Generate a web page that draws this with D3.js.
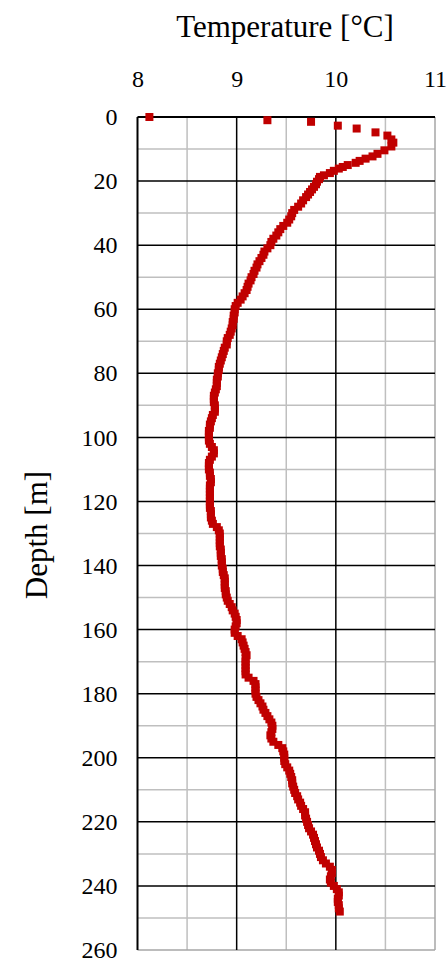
<!DOCTYPE html>
<html lang="en">
<head>
  <meta charset="UTF-8" />
  <title>Temperature profile</title>
  <script src="https://d3js.org/d3.v7.min.js"></script>
  <style>
    body { margin: 0; background: white; font-family: "Liberation Serif", "Times New Roman", serif; }
    .axis-title { font-size: 31px; fill: #000; font-family: "Liberation Serif", "Times New Roman", serif; }
  </style>
</head>
<body>
  <svg id="chart" width="447" height="963"></svg>

  <script>
    // temperature ticks along the top, depth ticks down the side
    const tempTicks = [8, 9, 10, 11];
    const depthTicks = [0, 20, 40, 60, 80, 100, 120, 140, 160, 180, 200, 220, 240, 260];

    const depth = [
      0, 1.0, 1.5, 2.7, 3.6, 4.8, 5.8, 7.0, 8.0, 9.2, 10.4, 11.5, 12.3, 13.0, 13.7, 14.3, 15.0, 15.6, 16.1, 16.8,
      17.5, 18.2, 18.7, 19.4, 20.2, 21.0, 21.8, 22.6, 23.4, 24.2, 25, 26, 27, 28, 29, 30, 31, 32, 33, 34,
      35, 36, 37, 38, 39, 40, 41, 42, 43, 44, 45, 46, 47, 48, 49, 50, 51, 52, 53, 54,
      55, 56, 57, 58, 59, 60, 61, 62, 63, 64, 65, 66, 67, 68, 69, 70, 71, 72, 73, 74,
      75, 76, 77, 78, 79, 80, 81, 82, 83, 84, 85, 86, 87, 88, 89, 90, 91, 92, 93, 94,
      95, 96, 97, 98, 99, 100, 101, 102, 103, 104, 105, 106, 107, 108, 109, 110, 111, 112, 113, 114,
      115, 116, 117, 118, 119, 120, 121, 122, 123, 124, 125, 126, 127, 128, 129, 130, 131, 132, 133, 134,
      135, 136, 137, 138, 139, 140, 141, 142, 143, 144, 145, 146, 147, 148, 149, 150, 151, 152, 153, 154,
      155, 156, 157, 158, 159, 160, 161, 162, 163, 164, 165, 166, 167, 168, 169, 170, 171, 172, 173, 174,
      175, 176, 177, 178, 179, 180, 181, 182, 183, 184, 185, 186, 187, 188, 189, 190, 191, 192, 193, 194,
      195, 196, 197, 198, 199, 200, 201, 202, 203, 204, 205, 206, 207, 208, 209, 210, 211, 212, 213, 214,
      215, 216, 217, 218, 219, 220, 221, 222, 223, 224, 225, 226, 227, 228, 229, 230, 231, 232, 233, 234,
      235, 236, 237, 238, 239, 240, 241, 242, 243, 244, 245, 246, 247, 248
    ];
    const temperature = [
      8.12, 9.31, 9.75, 10.02, 10.21, 10.40, 10.52, 10.56, 10.58, 10.56, 10.49, 10.42, 10.37, 10.30, 10.24, 10.20, 10.12, 10.07, 10.03, 9.98,
      9.94, 9.88, 9.84, 9.83, 9.81, 9.80, 9.78, 9.76, 9.74, 9.72, 9.70, 9.67, 9.65, 9.62, 9.58, 9.56, 9.55, 9.53, 9.51, 9.47,
      9.44, 9.42, 9.40, 9.37, 9.35, 9.34, 9.31, 9.28, 9.27, 9.25, 9.23, 9.21, 9.20, 9.18, 9.17, 9.15, 9.14, 9.12, 9.11, 9.10,
      9.08, 9.06, 9.04, 9.01, 8.99, 8.98, 8.98, 8.97, 8.97, 8.96, 8.96, 8.95, 8.94, 8.93, 8.91, 8.90, 8.90, 8.88, 8.87, 8.86,
      8.85, 8.84, 8.83, 8.82, 8.82, 8.81, 8.81, 8.80, 8.80, 8.80, 8.79, 8.78, 8.77, 8.77, 8.77, 8.78, 8.78, 8.78, 8.76, 8.75,
      8.74, 8.73, 8.73, 8.72, 8.72, 8.72, 8.72, 8.73, 8.75, 8.77, 8.77, 8.75, 8.73, 8.72, 8.72, 8.72, 8.73, 8.73, 8.74, 8.74,
      8.73, 8.73, 8.73, 8.73, 8.73, 8.73, 8.73, 8.73, 8.74, 8.74, 8.74, 8.75, 8.76, 8.80, 8.82, 8.83, 8.83, 8.83, 8.83, 8.83,
      8.84, 8.84, 8.84, 8.85, 8.85, 8.85, 8.86, 8.86, 8.87, 8.88, 8.88, 8.88, 8.88, 8.89, 8.89, 8.90, 8.91, 8.93, 8.95, 8.96,
      8.98, 8.99, 9.00, 9.00, 8.99, 8.98, 8.98, 9.01, 9.05, 9.06, 9.07, 9.08, 9.09, 9.10, 9.09, 9.09, 9.09, 9.09, 9.09, 9.09,
      9.12, 9.17, 9.19, 9.19, 9.19, 9.19, 9.20, 9.22, 9.24, 9.26, 9.27, 9.29, 9.31, 9.33, 9.35, 9.36, 9.36, 9.35, 9.34, 9.35,
      9.37, 9.42, 9.46, 9.47, 9.48, 9.48, 9.48, 9.49, 9.51, 9.53, 9.54, 9.55, 9.56, 9.56, 9.57, 9.58, 9.59, 9.61, 9.62, 9.64,
      9.65, 9.67, 9.69, 9.69, 9.70, 9.71, 9.72, 9.73, 9.75, 9.77, 9.78, 9.79, 9.80, 9.81, 9.83, 9.84, 9.85, 9.87, 9.90, 9.94,
      9.96, 9.96, 9.95, 9.94, 9.95, 9.98, 10.01, 10.03, 10.03, 10.02, 10.02, 10.03, 10.03, 10.04
    ];

    const svg = d3.select("#chart");
    const plotLeft = 137.5, plotRight = 435, plotTop = 117, plotBottom = 950;

    const x = d3.scaleLinear().domain([8, 11]).range([plotLeft, plotRight]);
    const y = d3.scaleLinear().domain([0, 260]).range([plotTop, plotBottom]);

    // minor grid
    const grid = svg.append("g");
    grid.selectAll(".vminor")
      .data([8.5, 9.5, 10.5])
      .join("line")
      .attr("x1", d => x(d)).attr("x2", d => x(d))
      .attr("y1", plotTop).attr("y2", plotBottom)
      .attr("stroke", "#bfbfbf").attr("stroke-width", 1.5);
    grid.selectAll(".hminor")
      .data(d3.range(10, 260, 20))
      .join("line")
      .attr("x1", plotLeft).attr("x2", plotRight)
      .attr("y1", d => y(d)).attr("y2", d => y(d))
      .attr("stroke", "#bfbfbf").attr("stroke-width", 1.5);

    // plot border (right and bottom are grey in the original)
    grid.append("line").attr("x1", plotRight).attr("x2", plotRight).attr("y1", plotTop).attr("y2", plotBottom)
      .attr("stroke", "#a6a6a6").attr("stroke-width", 1.5);
    grid.append("line").attr("x1", plotLeft).attr("x2", plotRight).attr("y1", plotBottom).attr("y2", plotBottom)
      .attr("stroke", "#a6a6a6").attr("stroke-width", 1.5);

    // major grid
    grid.selectAll(".vmajor")
      .data([9, 10])
      .join("line")
      .attr("x1", d => x(d)).attr("x2", d => x(d))
      .attr("y1", plotTop).attr("y2", plotBottom)
      .attr("stroke", "#000").attr("stroke-width", 1.5);
    grid.selectAll(".hmajor")
      .data(depthTicks.filter(d => d > 0 && d < 260))
      .join("line")
      .attr("x1", plotLeft).attr("x2", plotRight)
      .attr("y1", d => y(d)).attr("y2", d => y(d))
      .attr("stroke", "#000").attr("stroke-width", 1.5);

    // axes (top and left)
    const xAxis = svg.append("g")
      .attr("transform", `translate(0,${plotTop})`)
      .call(d3.axisTop(x).tickValues(tempTicks).tickSize(0).tickPadding(30).tickFormat(d3.format("d")));
    const yAxis = svg.append("g")
      .attr("transform", `translate(${plotLeft},0)`)
      .call(d3.axisLeft(y).tickValues(depthTicks).tickSize(0).tickPadding(20).tickFormat(d3.format("d")));

    [xAxis, yAxis].forEach(a => {
      a.attr("font-family", "Liberation Serif, Times New Roman, serif").attr("font-size", 24);
      a.select(".domain").attr("stroke", "#000").attr("stroke-width", 2);
      a.selectAll("text").attr("fill", "#000");
    });
    xAxis.select(".domain").attr("d", `M${plotLeft},0H${plotRight}`);
    yAxis.select(".domain").attr("d", `M0,${plotTop}V${plotBottom}`);

    // markers
    const data = depth.map((d, i) => ({ depth: d, temp: temperature[i] }));
    const size = 8;
    svg.append("g")
      .selectAll("rect")
      .data(data)
      .join("rect")
      .attr("x", d => x(d.temp) - size / 2)
      .attr("y", d => y(d.depth) - size / 2)
      .attr("width", size)
      .attr("height", size)
      .attr("fill", "#c00000");

    // titles
    svg.append("text")
      .attr("class", "axis-title")
      .attr("x", 285).attr("y", 37)
      .attr("text-anchor", "middle")
      .text("Temperature [°C]");

    svg.append("text")
      .attr("class", "axis-title")
      .attr("transform", "translate(47,535) rotate(-90)")
      .attr("text-anchor", "middle")
      .text("Depth [m]");
  </script>
</body>
</html>
